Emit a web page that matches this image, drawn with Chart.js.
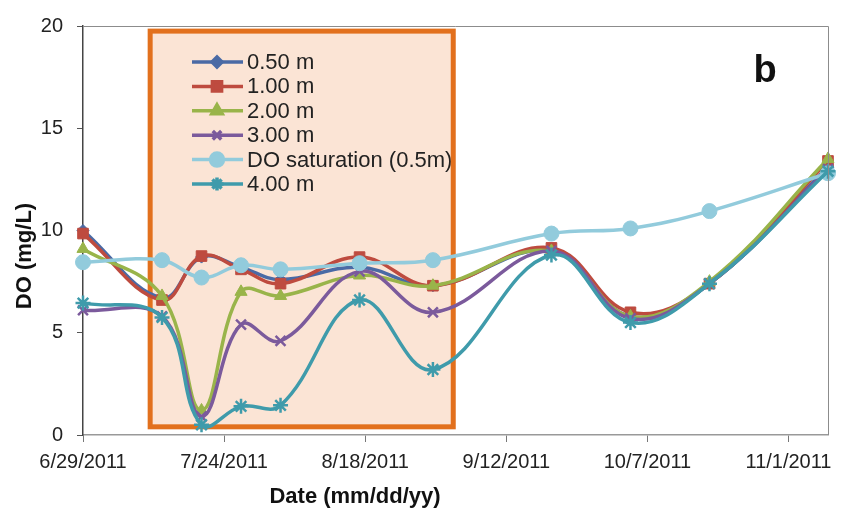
<!DOCTYPE html>
<html>
<head>
<meta charset="utf-8">
<title>DO profile</title>
<script src="https://cdn.jsdelivr.net/npm/chart.js@4.4.1/dist/chart.umd.min.js"></script>
<style>
  body { margin: 0; background: #fff; }
  #wrap { width: 841px; height: 514px; }
</style>
</head>
<body>
<div id="wrap"><canvas id="doChart" width="841" height="514"></canvas></div>
<script>
// Sampling days, counted from 6/29/2011
const days = [0, 14, 21, 28, 35, 49, 62, 83, 97, 111, 132];

// DO (mg/L) per depth
const do050 = [10.0, 6.7, 8.7, 8.2, 7.6, 8.2, 7.3, 9.0, 5.8, 7.4, 13.1];
const do100 = [9.85, 6.6, 8.75, 8.1, 7.4, 8.7, 7.3, 9.15, 6.0, 7.4, 13.4];
const do200 = [9.1, 6.8, 1.2, 7.0, 6.8, 7.8, 7.3, 9.0, 5.8, 7.5, 13.5];
const do300 = [6.1, 5.8, 0.9, 5.4, 4.6, 8.0, 6.0, 9.0, 5.7, 7.4, 13.0];
const doSat = [8.45, 8.55, 7.7, 8.3, 8.1, 8.4, 8.55, 9.85, 10.1, 10.95, 12.8];
const do400 = [6.45, 5.75, 0.5, 1.4, 1.45, 6.6, 3.2, 8.8, 5.5, 7.4, 12.9];

const seriesLabels = ['0.50 m', '1.00 m', '2.00 m', '3.00 m', 'DO saturation (0.5m)', '4.00 m'];
const xTickStep = 25;   // days between date labels
const yTicks = [0, 5, 10, 15, 20];

// highlighted period (in axis units)
const boxDays = [11.9, 65.6];
const boxDO = [0.4, 19.75];

function dayToLabel(v) {
  const d = new Date(2011, 5, 29 + v);
  return (d.getMonth() + 1) + '/' + d.getDate() + '/' + d.getFullYear();
}

function pts(vals) {
  return days.map((d, i) => ({ x: d, y: vals[i] }));
}

const styles = [
  { color: '#4a6aa5', point: 'rectRot', r: 6 },
  { color: '#be4b3f', point: 'rect', r: 7.5 },
  { color: '#99b44a', point: 'triangle', r: 7 },
  { color: '#7b5a9c', point: 'crossRot', r: 7 },
  { color: '#92cbdc', point: 'circle', r: 7.5 },
  { color: '#3f9bab', point: 'star', r: 7.5 }
];
const allSeries = [do050, do100, do200, do300, doSat, do400];

const datasets = allSeries.map((vals, i) => ({
  label: seriesLabels[i],
  data: pts(vals),
  borderColor: styles[i].color,
  backgroundColor: styles[i].color,
  borderWidth: 3.5,
  pointStyle: styles[i].point,
  pointRadius: styles[i].r,
  pointBorderWidth: styles[i].point === 'crossRot' || styles[i].point === 'star' ? 2.5 : 1,
  tension: 0.4,
  clip: false,
  order: allSeries.length - i  // later series on top
}));

// orange box + legend inside it
const boxPlugin = {
  id: 'boxPlugin',
  beforeDatasetsDraw(chart) {
    const ctx = chart.ctx;
    const xs = chart.scales.x, ys = chart.scales.y;
    const x1 = xs.getPixelForValue(boxDays[0]), x2 = xs.getPixelForValue(boxDays[1]);
    const y1 = ys.getPixelForValue(boxDO[1]), y2 = ys.getPixelForValue(boxDO[0]);
    ctx.save();
    ctx.fillStyle = '#fbe4d5';
    ctx.fillRect(x1, y1, x2 - x1, y2 - y1);

    // legend
    ctx.font = '22px "Liberation Sans", Arial, sans-serif';
    ctx.textBaseline = 'middle';
    ctx.fillStyle = '#222';
    seriesLabels.forEach((lab, i) => {
      const y = 62 + i * 24.4;
      ctx.strokeStyle = styles[i].color;
      ctx.lineWidth = 3.5;
      ctx.beginPath();
      ctx.moveTo(192, y);
      ctx.lineTo(243, y);
      ctx.stroke();
      ctx.fillStyle = styles[i].color;
      Chart.helpers.drawPoint(ctx, {
        pointStyle: styles[i].point,
        radius: styles[i].r - 1,
        borderWidth: styles[i].point === 'crossRot' || styles[i].point === 'star' ? 2.5 : 1
      }, 217, y);
      ctx.fillStyle = '#222';
      ctx.fillText(lab, 247, y + 1);
    });

    ctx.strokeStyle = '#e2701d';
    ctx.lineWidth = 5;
    ctx.strokeRect(x1, y1, x2 - x1, y2 - y1);
    ctx.restore();
  },
  afterDraw(chart) {
    const ctx = chart.ctx;
    const a = chart.chartArea;
    ctx.save();
    // top / right frame
    ctx.strokeStyle = '#8c8c8c';
    ctx.lineWidth = 1;
    ctx.beginPath();
    ctx.moveTo(a.left, a.top + 0.5);
    ctx.lineTo(a.right + 0.5, a.top + 0.5);
    ctx.lineTo(a.right + 0.5, a.bottom);
    ctx.stroke();

    ctx.fillStyle = '#111';
    ctx.font = 'bold 22px "Liberation Sans", Arial, sans-serif';
    ctx.textAlign = 'center';
    ctx.textBaseline = 'middle';
    ctx.fillText('Date (mm/dd/yy)', 355, 497);

    ctx.translate(25, 256);
    ctx.rotate(-Math.PI / 2);
    ctx.fillText('DO (mg/L)', 0, 0);
    ctx.restore();

    ctx.save();
    ctx.fillStyle = '#111';
    ctx.font = 'bold 38px "Liberation Sans", Arial, sans-serif';
    ctx.textAlign = 'center';
    ctx.textBaseline = 'middle';
    ctx.fillText('b', 765, 72);
    ctx.restore();
  }
};

const ctx = document.getElementById('doChart').getContext('2d');
const doChart = new Chart(ctx, {
  type: 'line',
  data: { datasets: datasets },
  plugins: [boxPlugin],
  options: {
    responsive: false,
    animation: false,
    layout: { padding: { top: 25, right: 13, left: 0, bottom: 0 } },
    plugins: {
      legend: { display: false },
      tooltip: { enabled: false }
    },
    scales: {
      x: {
        type: 'linear',
        min: 0,
        max: 132,
        afterFit(scale) { scale.height = 79; },
        grid: { drawOnChartArea: false, tickLength: 7, color: '#777' },
        border: { color: '#999', width: 1.5 },
        ticks: {
          stepSize: xTickStep,
          includeBounds: false,
          maxRotation: 0,
          autoSkip: false,
          padding: 8,
          color: '#222',
          font: { size: 20, family: '"Liberation Sans", Arial, sans-serif' },
          callback: v => dayToLabel(v)
        }
      },
      y: {
        min: yTicks[0],
        max: yTicks[yTicks.length - 1],
        afterFit(scale) { scale.width = 83; },
        grid: { drawOnChartArea: false, tickLength: 6, color: '#555' },
        border: { color: '#444', width: 1.5 },
        ticks: {
          stepSize: 5,
          padding: 14,
          color: '#222',
          font: { size: 20, family: '"Liberation Sans", Arial, sans-serif' }
        }
      }
    }
  }
});
</script>
</body>
</html>
